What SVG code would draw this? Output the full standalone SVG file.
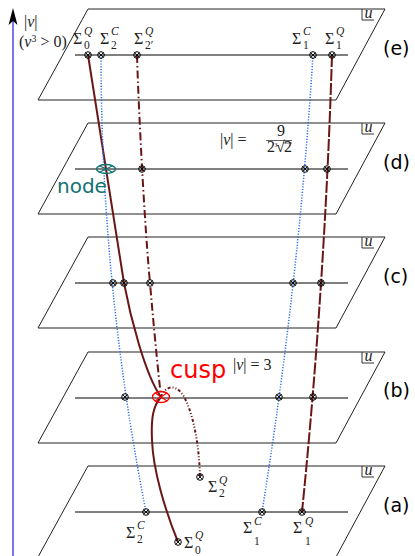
<svg xmlns="http://www.w3.org/2000/svg" width="415" height="556" viewBox="0 0 415 556">
<style>
.pl{fill:none;stroke:#222;stroke-width:1}
.ax{fill:none;stroke:#000;stroke-width:1}
.ubox{fill:none;stroke:#333;stroke-width:1}
.m{font-family:"Liberation Serif","DejaVu Serif",serif;fill:#222;font-size:16px}
.mi{font-style:italic}
.s{font-size:11.5px}
.lab{font-family:"DejaVu Sans",sans-serif;font-size:19px;fill:#000}
.q{fill:none;stroke:#6b1616;stroke-width:2}
.c{fill:none;stroke:#2a6ee6;stroke-width:1.5;stroke-dasharray:1.2 1.6}
</style>
<defs>
<g id="ot"><circle r="3.3" fill="none" stroke="#000" stroke-width="1"/><path d="M-2.3,-2.3L2.3,2.3M-2.3,2.3L2.3,-2.3" stroke="#000" stroke-width="0.9"/></g>
<g id="plane"><path class="pl" d="M88,0H385L336,91H38Z"/><path class="ax" d="M75,46H348"/><path class="ubox" d="M362,0V11H374"/><text class="m mi" x="364.5" y="9" font-size="12">u</text></g>
</defs>
<g id="axis">
<line x1="13" y1="556" x2="13" y2="20" stroke="#4a4aee" stroke-width="1.5"/>
<path d="M13,8 L17.5,25 L13,21 L8.5,25Z" fill="#000"/>
<text class="m" x="24" y="27" font-size="19">|<tspan class="mi">v</tspan>|</text>
<text class="m" x="19" y="47" font-size="14">(<tspan class="mi">v</tspan><tspan font-size="10" dy="-5">3</tspan><tspan dy="5"> &gt; 0)</tspan></text>
</g>
<g id="plane-e"><use href="#plane" y="9"/><text class="lab" x="383" y="55">(e)</text></g>
<g id="plane-d"><use href="#plane" y="123"/><text class="lab" x="383" y="169">(d)</text>
<text class="m" x="220" y="145" font-size="17">|<tspan class="mi">v</tspan>| =</text>
<line x1="266" y1="140.5" x2="292" y2="140.5" stroke="#222" stroke-width="0.7"/>
<line x1="283" y1="143" x2="292" y2="143" stroke="#222" stroke-width="0.7"/>
<text class="m" x="277" y="136" font-size="11">9</text>
<text class="m" font-size="11"><tspan x="267" y="152">2</tspan><tspan font-size="6" x="274.5" y="147">3</tspan><tspan x="276" y="152">√</tspan><tspan x="284" y="152">2</tspan></text>
</g>
<g id="plane-c"><use href="#plane" y="237"/><text class="lab" x="383" y="283">(c)</text></g>
<g id="plane-b"><use href="#plane" y="352"/><text class="lab" x="383" y="397">(b)</text>
<text class="m" x="233" y="370" font-size="14">|<tspan class="mi">v</tspan>| = 3</text>
</g>
<g id="plane-a"><use href="#plane" y="466"/><text class="lab" x="383" y="512">(a)</text></g>
<g id="connectors">
<path class="q" d="M88,55 L124,283 C130,315 145,375 161,397 C153,406 151,418 152,440 C153,470 165,510 178,542"/>
<path class="q" stroke-dasharray="8 3 1.5 3" d="M137,55 C139,120 145,230 150,283 C154,330 158,370 161,397"/>
<path class="q" stroke-width="1.3" stroke-dasharray="3 2 1 2 1 2" d="M161,397 C164,388 174,382 183,395 C192,410 199,440 200,477"/>
<path class="c" d="M101,55 Q101,283.5 146,512"/>
<path class="c" d="M313,55 Q298.7,283.5 262,512"/>
<path class="q" stroke-dasharray="12 2" d="M332,55 Q325,283.5 302,512"/>
</g>
<g id="points">
<use href="#ot" x="88" y="55"/><use href="#ot" x="101" y="55"/><use href="#ot" x="137" y="55"/><use href="#ot" x="313" y="55"/><use href="#ot" x="332" y="55"/>
<use href="#ot" x="142" y="169"/><use href="#ot" x="305" y="169"/><use href="#ot" x="327" y="169"/>
<use href="#ot" x="113" y="283"/><use href="#ot" x="124" y="283"/><use href="#ot" x="150" y="283"/><use href="#ot" x="293" y="283"/><use href="#ot" x="321" y="283"/>
<use href="#ot" x="125" y="397"/><use href="#ot" x="279" y="397"/><use href="#ot" x="313" y="397"/>
<use href="#ot" x="146" y="512"/><use href="#ot" x="262" y="512"/><use href="#ot" x="302" y="512"/><use href="#ot" x="200" y="477"/><use href="#ot" x="178" y="542"/>
</g>
<g id="node">
<ellipse cx="106" cy="169" rx="9.5" ry="4.5" fill="none" stroke="#137373" stroke-width="1.5"/>
<path d="M99.3,165.8L112.7,172.2M99.3,172.2L112.7,165.8" stroke="#137373" stroke-width="1.2"/>
<text x="57" y="193" font-family="DejaVu Sans,sans-serif" font-size="20" fill="#137373">node</text>
</g>
<g id="cusp">
<ellipse cx="161" cy="397" rx="8.5" ry="5.5" fill="none" stroke="#ff0000" stroke-width="1.3"/>
<path d="M155,393L167,401M155,401L167,393" stroke="#ff0000" stroke-width="1.1"/>
<text x="170" y="378" font-family="DejaVu Sans,sans-serif" font-size="24" fill="#ff0000">cusp</text>
</g>
<g id="labels-e">
<text class="m" x="73" y="44">Σ<tspan class="s mi" x="84" y="35">Q</tspan><tspan class="s" x="84" y="49">0</tspan></text>
<text class="m" x="100" y="44">Σ<tspan class="s mi" x="111" y="35">C</tspan><tspan class="s" x="111" y="49">2</tspan></text>
<text class="m" x="134" y="44">Σ<tspan class="s mi" x="145" y="35">Q</tspan><tspan class="s" x="145" y="49">2′</tspan></text>
<text class="m" x="292" y="44">Σ<tspan class="s mi" x="303" y="35">C</tspan><tspan class="s" x="303" y="49">1</tspan></text>
<text class="m" x="325" y="44">Σ<tspan class="s mi" x="336" y="35">Q</tspan><tspan class="s" x="336" y="49">1</tspan></text>
</g>
<g id="labels-a">
<text class="m" x="126" y="538">Σ<tspan class="s mi" x="137" y="529">C</tspan><tspan class="s" x="137" y="543">2</tspan></text>
<text class="m" x="184" y="548">Σ<tspan class="s mi" x="195" y="539">Q</tspan><tspan class="s" x="195" y="554">0</tspan></text>
<text class="m" x="208" y="492">Σ<tspan class="s mi" x="219" y="484">Q</tspan><tspan class="s" x="219" y="497">2</tspan></text>
<text class="m" x="243" y="533">Σ<tspan class="s mi" x="254" y="525">C</tspan><tspan class="s" x="254" y="545">1</tspan></text>
<text class="m" x="293" y="533">Σ<tspan class="s mi" x="305" y="525">Q</tspan><tspan class="s" x="305" y="545">1</tspan></text>
</g>
</svg>
